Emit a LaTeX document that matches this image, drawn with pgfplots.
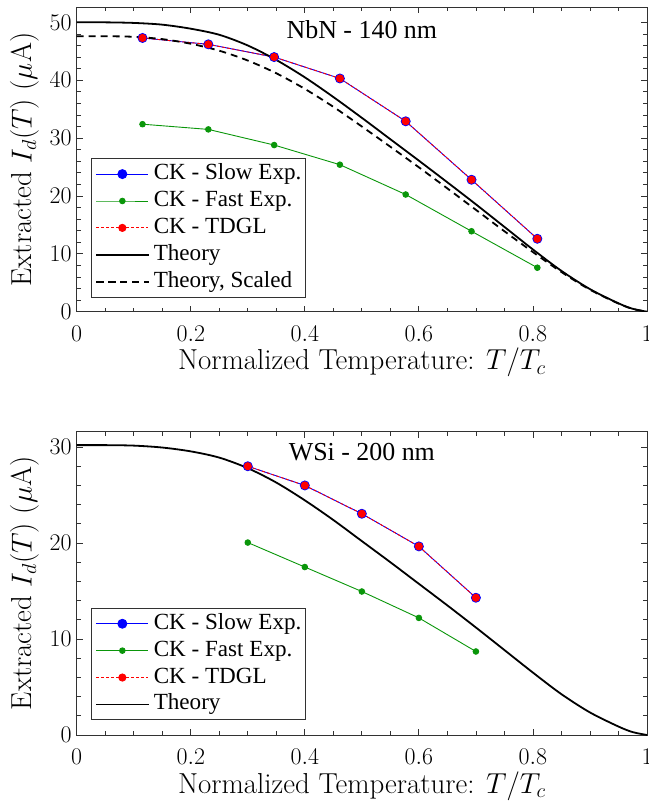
\RequirePackage{fix-cm}
\documentclass[border=0pt]{standalone}
\usepackage{fontspec}
\usepackage{pgfplots}
\pgfplotsset{compat=1.18}
\usepackage{pgfplotstable}
\newfontfamily\timesfont{Liberation Serif}
\definecolor{mgreen}{RGB}{10,150,10}
\definecolor{axgray}{RGB}{50,50,50}

% ---------- NbN data ----------
\pgfplotstableread{
x y
0.1154 47.3
0.2308 46.2
0.3462 44.0
0.4615 40.3
0.5769 32.9
0.6923 22.8
0.8077 12.6
}\nbnslow
\pgfplotstableread{
x y
0.1154 32.4
0.2308 31.5
0.3462 28.8
0.4615 25.4
0.5769 20.25
0.6923 13.9
0.8077 7.6
}\nbnfast
\pgfplotstableread{
x y
0.00 50.0
0.05 50.0
0.10 49.9
0.15 49.6
0.20 48.9
0.25 47.85
0.30 46.0
0.35 43.5
0.40 40.5
0.45 37.1
0.50 33.5
0.55 29.8
0.60 26.1
0.65 22.35
0.70 18.55
0.75 14.65
0.80 10.75
0.85 7.05
0.90 3.9
0.95 1.45
0.975 0.5
1.00 0.0
}\nbntheory
\pgfplotstableread{
x y
0.00 47.6
0.05 47.6
0.10 47.5
0.15 47.1
0.20 46.3
0.25 45.1
0.30 43.4
0.35 41.2
0.40 38.5
0.45 35.4
0.50 32.0
0.55 28.5
0.60 24.95
0.65 21.3
0.70 17.6
0.75 13.9
0.80 10.3
0.85 6.85
0.90 3.8
0.95 1.4
0.975 0.48
1.00 0.0
}\nbnscaled

% ---------- WSi data ----------
\pgfplotstableread{
x y
0.3 28.0
0.4 26.0
0.5 23.05
0.6 19.65
0.7 14.3
}\wsislow
\pgfplotstableread{
x y
0.3 20.05
0.4 17.5
0.5 14.95
0.6 12.2
0.7 8.7
}\wsifast
\pgfplotstableread{
x y
0.00 30.2
0.05 30.2
0.10 30.15
0.15 29.95
0.20 29.55
0.25 28.9
0.30 27.8
0.35 26.3
0.40 24.45
0.45 22.4
0.50 20.2
0.55 18.0
0.60 15.75
0.65 13.5
0.70 11.2
0.75 8.85
0.80 6.5
0.85 4.25
0.90 2.35
0.95 0.88
0.975 0.3
1.00 0.0
}\wsitheory

\pgfplotsset{
  myaxis/.style={
    scale only axis,
    width=570.3bp,
    xmin=0, xmax=1,
    ymin=0,
    xtick={0,0.2,0.4,0.6,0.8,1},
    minor x tick num=3,
    minor y tick num=4,
    tick pos=both,
    tick align=inside,
    major tick length=6bp,
    minor tick length=4bp,
    axis line style={axgray, line width=1bp},
    every tick/.style={axgray, line width=0.8bp},
    tick label style={font=\fontsize{24}{28}\selectfont},
    xticklabel style={inner sep=0pt, yshift=-14bp},
    yticklabel style={inner sep=0pt, xshift=-5bp},
    label style={font=\fontsize{29}{34}\selectfont},
    xlabel={Normalized Temperature: $T/T_c$},
    xlabel style={at={(axis description cs:0.5,0)}, anchor=base, yshift=-58bp},
    ylabel={Extracted $I_d(T)$ $(\mu\mathrm{A})$},
    ylabel style={at={(axis description cs:0,0.5)}, anchor=base, rotate=0, yshift=45bp},
    legend cell align=left,
    legend style={anchor=south west, draw=axgray, line width=1bp, fill=white,
      font=\timesfont\fontsize{23.2}{27}\selectfont,
      inner xsep=4bp, inner ysep=5bp, row sep=5.9bp,
      nodes={inner sep=0pt, text height=16bp, text depth=5bp},
      /tikz/every odd column/.append style={column sep=4.5bp}},
    legend image code/.code={\draw[mark repeat=2,mark phase=2,#1] plot coordinates {(0bp,0bp) (26bp,0bp) (52bp,0bp)};},
  },
  slowstyle/.style={blue, line width=0.9bp, mark=*, mark size=4.5bp, mark options={solid, fill=blue, draw=blue}},
  faststyle/.style={mgreen, line width=0.9bp, mark=*, mark size=2.8bp, mark options={solid, fill=mgreen, draw=mgreen}},
  tdglstyle/.style={draw=red, color=red, line width=0.9bp, dash pattern=on 3bp off 2bp, mark=*, mark size=3.6bp, mark options={solid, fill=red, draw=red}},
  theorystyle/.style={black, line width=1.8bp, no markers, smooth},
  scaledstyle/.style={black, line width=1.8bp, no markers, smooth, dash pattern=on 7bp off 5bp},
}

\begin{document}
\begin{tikzpicture}
% ---------------- top: NbN ----------------
\begin{axis}[myaxis,
  at={(0bp,423.3bp)}, anchor=south west,
  height=304.4bp, ymax=52.6,
  ytick={0,10,20,30,40,50},
  legend style={at={(0.025,0.046)}},
]
\addplot[slowstyle] table[x=x,y=y]{\nbnslow};
\addlegendentry{CK - Slow Exp.}
\addplot[faststyle] table[x=x,y=y]{\nbnfast};
\addlegendentry{CK - Fast Exp.}
\addplot[tdglstyle] table[x=x,y=y]{\nbnslow};
\addlegendentry{CK - TDGL}
\addplot[theorystyle] table[x=x,y=y]{\nbntheory};
\addlegendentry{Theory}
\addplot[scaledstyle] table[x=x,y=y]{\nbnscaled};
\addlegendentry{Theory, Scaled}
\node[font=\timesfont\fontsize{26}{30}\selectfont] at (rel axis cs:0.5,0.928) {NbN - 140 nm};
\end{axis}
% ---------------- bottom: WSi ----------------
\begin{axis}[myaxis,
  at={(0bp,0bp)}, anchor=south west,
  height=303.3bp, ymax=31.6,
  ytick={0,10,20,30},
  legend style={at={(0.025,0.048)}},
]
\addplot[slowstyle] table[x=x,y=y]{\wsislow};
\addlegendentry{CK - Slow Exp.}
\addplot[faststyle] table[x=x,y=y]{\wsifast};
\addlegendentry{CK - Fast Exp.}
\addplot[tdglstyle] table[x=x,y=y]{\wsislow};
\addlegendentry{CK - TDGL}
\addplot[theorystyle] table[x=x,y=y]{\wsitheory};
\addlegendentry{Theory}
\node[font=\timesfont\fontsize{26}{30}\selectfont] at (rel axis cs:0.5,0.934) {WSi - 200 nm};
\end{axis}
\pgfresetboundingbox
\useasboundingbox (-76.7bp,-71bp) rectangle (572.3bp,735bp);
\end{tikzpicture}
\end{document}
